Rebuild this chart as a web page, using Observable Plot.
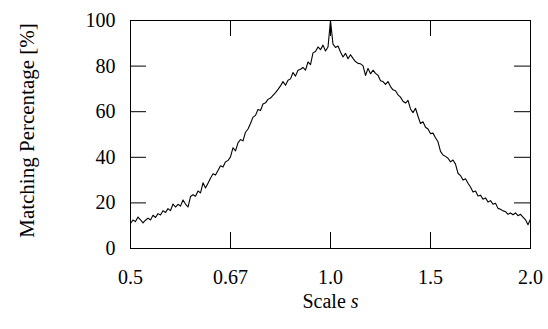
<!DOCTYPE html>
<html>
<head>
<meta charset="utf-8">
<script src="https://cdn.jsdelivr.net/npm/d3@7"></script>
<script src="https://cdn.jsdelivr.net/npm/@observablehq/plot@0.6"></script>
<style>
  html, body { margin: 0; padding: 0; background: white; }
</style>
</head>
<body>
<div id="chart"></div>
<script>
// Matching percentage sampled evenly along the (log-spaced) scale axis, from s = 0.5 to s = 2.0
const matching = [
  11, 12.5, 11.8, 13.8, 12.6, 11.2, 12.4, 13.3, 12.5, 14.6,
  13.6, 15.3, 14.7, 16.6, 15.8, 17.5, 16.6, 19.5, 18.2, 19.4,
  18.6, 21.3, 19.5, 18.2, 22.8, 23.6, 22.9, 25.2, 24.4, 28.8,
  26.5, 28.6, 30.8, 32.8, 32.2, 34.2, 36.3, 35.7, 38, 38.6,
  40.2, 44.2, 42.8, 46.3, 47.8, 47.2, 51, 52.4, 54.8, 57.6,
  58.4, 61, 60.5, 63.4, 63.9, 65.4, 66, 67.2, 68.4, 69.8,
  71.3, 73.2, 71.6, 73.8, 74.4, 77.2, 75.6, 78.2, 78.6, 79.4,
  78.2, 81.8, 80.6, 85.8, 86.4, 88.4, 87.2, 89.2, 86.6, 88.4,
  100,
  89.6, 88.2, 88.8, 86.2, 84, 85.6, 83.2, 85, 83.4, 82,
  81.2, 81, 80.2, 75.9, 79, 76.6, 78.2, 76.8, 76, 73.6,
  73.2, 72, 73.2, 71, 69.6, 69.2, 67.4, 66.4, 64.6, 63.8,
  65, 61.2, 59.6, 61.5, 58, 54.8, 55.6, 53.2, 52.4, 50.4,
  50.6, 48.6, 46.8, 42.6, 41, 40.4, 39.6, 38, 38.8, 37,
  33, 32, 30, 30.6, 28.6, 27, 24.8, 25.2, 23, 23.4,
  21.6, 22.2, 20.4, 21, 19.4, 19.8, 17.6, 17.2, 16.5, 16.2,
  15, 15.6, 14.8, 15.6, 14.4, 15, 13.8, 12.6, 10.4, 13
];

// Axis: log2 position of the scale, labelled with the scale values
const xTickPos = [-1, -0.5, 0, 0.5, 1];
const xTickLabels = ["0.5", "0.67", "1.0", "1.5", "2.0"];
const yTicks = [0, 20, 40, 60, 80, 100];
const xLabel = "Scale s";
const yLabel = "Matching Percentage [%]";

const N = matching.length;
const data = matching.map((v, i) => ({u: -1 + 2 * i / (N - 1), v}));

const W = 548, H = 329;
const mL = 130, mR = 18, mT = 20, mB = 81;
const tickLen = 16;
const innerW = W - mL - mR, innerH = H - mT - mB;
const font = '"Liberation Serif", "Times New Roman", serif';

const chart = Plot.plot({
  width: W,
  height: H,
  marginLeft: mL,
  marginRight: mR,
  marginTop: mT,
  marginBottom: mB,
  x: {domain: [-1, 1]},
  y: {domain: [0, 100]},
  style: {fontFamily: font, fontSize: "20px", background: "white", color: "black"},
  marks: [
    Plot.axisX({ticks: xTickPos, tickFormat: d => xTickLabels[xTickPos.indexOf(d)], tickSize: 0, tickPadding: 21, label: null, fontSize: 20}),
    Plot.axisY({ticks: yTicks, tickSize: 0, tickPadding: 15, label: null, fontSize: 20}),
    Plot.ruleX(xTickPos, {insetTop: innerH - tickLen, stroke: "black"}),
    Plot.ruleX(xTickPos, {insetBottom: innerH - tickLen, stroke: "black"}),
    Plot.ruleY(yTicks, {insetRight: innerW - tickLen, stroke: "black"}),
    Plot.ruleY(yTicks, {insetLeft: innerW - tickLen, stroke: "black"}),
    Plot.line(data, {x: "u", y: "v", stroke: "black", strokeWidth: 1.1}),
    Plot.frame({stroke: "black"}),
    Plot.text([xLabel], {frameAnchor: "bottom", dy: 53, lineAnchor: "middle", textAnchor: "middle", fontSize: 20, fill: "black"}),
    Plot.text([yLabel], {frameAnchor: "left", rotate: -90, dx: -103, dy: -4, lineAnchor: "middle", textAnchor: "middle", fontSize: 21, fill: "black"})
  ]
});

chart.querySelectorAll("text").forEach(t => {
  if (t.textContent === xLabel) {
    t.textContent = "Scale ";
    const ts = document.createElementNS("http://www.w3.org/2000/svg", "tspan");
    ts.setAttribute("font-style", "italic");
    ts.textContent = "s";
    t.appendChild(ts);
  }
});

document.getElementById("chart").appendChild(chart);
</script>
</body>
</html>
